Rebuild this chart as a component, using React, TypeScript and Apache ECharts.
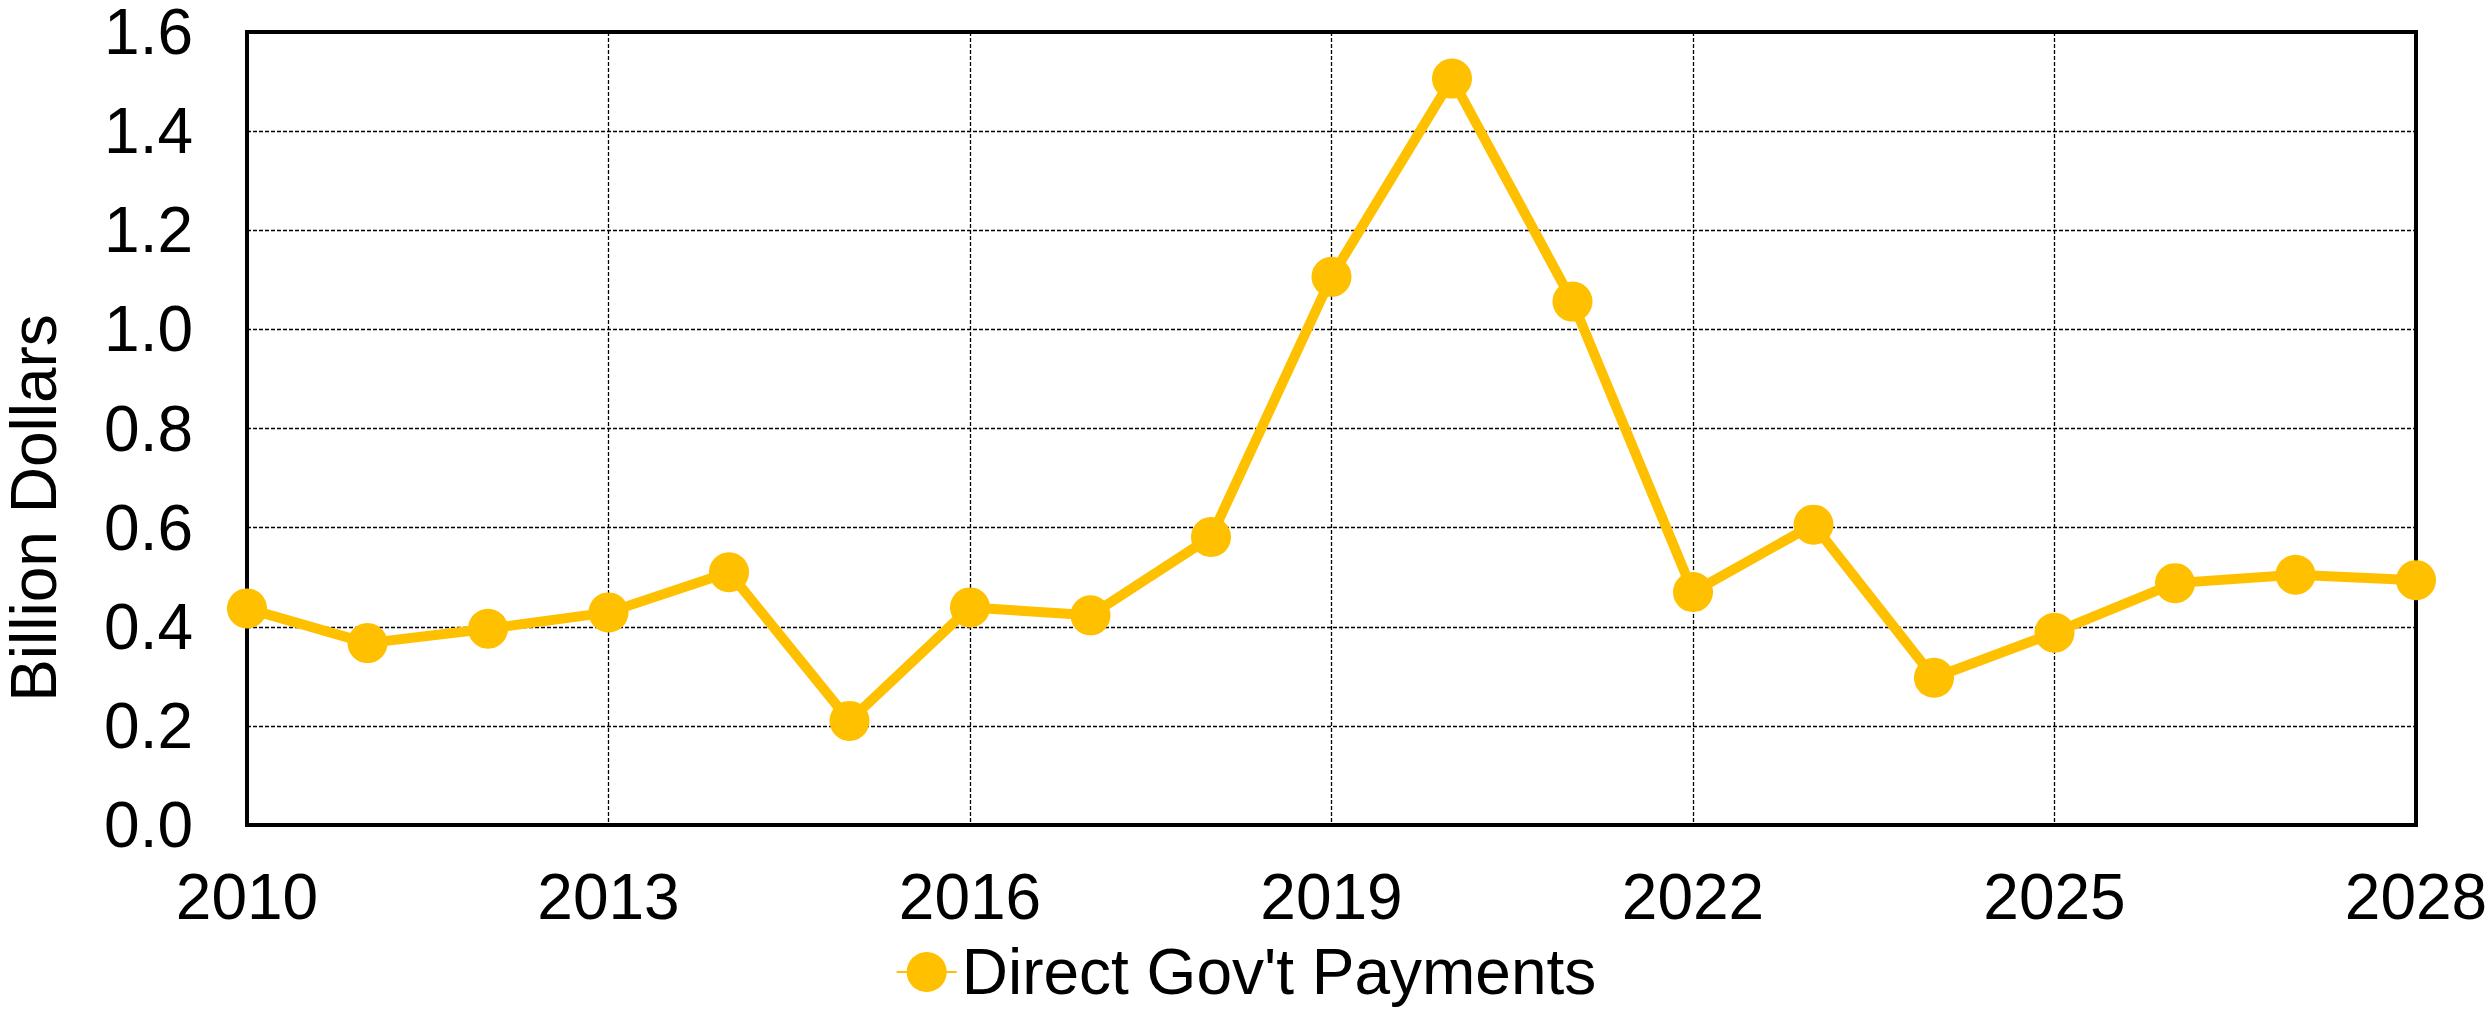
import React, { useEffect, useRef } from "react";
import * as echarts from "echarts";

const years = [2010, 2011, 2012, 2013, 2014, 2015, 2016, 2017, 2018, 2019, 2020, 2021, 2022, 2023, 2024, 2025, 2026, 2027, 2028];
const payments = [0.437, 0.367, 0.396, 0.429, 0.51, 0.21, 0.439, 0.423, 0.581, 1.106, 1.506, 1.056, 0.47, 0.606, 0.297, 0.388, 0.488, 0.505, 0.494];
const seriesName = "Direct Gov't Payments";
const yTitle = "Billion Dollars";

const FONT = 'Arial, "Liberation Sans", sans-serif';

export default function App() {
  const ref = useRef<HTMLDivElement>(null);
  useEffect(() => {
    if (!ref.current) return;
    const chart = echarts.init(ref.current, null, { renderer: "svg" });
    const data = years.map((y, i) => [y, payments[i]]);
    chart.setOption({
      animation: false,
      backgroundColor: "#ffffff",
      grid: {
        left: 247,
        right: 76,
        top: 31,
        bottom: 190,
        show: true,
        borderColor: "#000000",
        borderWidth: 4,
        backgroundColor: "transparent",
      },
      xAxis: {
        type: "value",
        min: 2010,
        max: 2028,
        interval: 3,
        axisLine: { show: false },
        axisTick: { show: false },
        axisLabel: {
          color: "#000",
          fontSize: 64,
          fontFamily: FONT,
          margin: 40,
          formatter: (v: number) => String(v),
        },
        splitLine: { show: true, lineStyle: { color: "#000", width: 1.3, type: [4, 2] } },
      },
      yAxis: {
        type: "value",
        min: 0,
        max: 1.6,
        interval: 0.2,
        axisLine: { show: false },
        axisTick: { show: false },
        axisLabel: {
          color: "#000",
          fontSize: 64,
          lineHeight: 54,
          fontFamily: FONT,
          margin: 54,
          formatter: (v: number) => v.toFixed(1),
        },
        splitLine: { show: true, lineStyle: { color: "#000", width: 1.3, type: [4, 2] } },
      },
      legend: {
        show: true,
        bottom: 6,
        left: "center",
        itemWidth: 60,
        itemHeight: 50,
        textStyle: { color: "#000", fontSize: 64, fontFamily: FONT },
        data: [seriesName],
      },
      graphic: [
        {
          type: "text",
          x: 34,
          y: 508,
          rotation: Math.PI / 2,
          style: {
            text: yTitle,
            font: `64px ${FONT}`,
            lineHeight: 58,
            fill: "#000",
            textAlign: "center",
            textVerticalAlign: "middle",
          },
        },
      ],
      series: [
        {
          name: seriesName,
          type: "line",
          data,
          symbol: "circle",
          symbolSize: 40,
          lineStyle: { color: "#FFC000", width: 10 },
          itemStyle: { color: "#FFC000" },
          z: 5,
        },
      ],
    });
    return () => chart.dispose();
  }, []);
  return (
    <div
      ref={ref}
      style={{ position: "fixed", left: 0, top: 0, width: 2492, height: 1015, background: "#fff" }}
    />
  );
}
